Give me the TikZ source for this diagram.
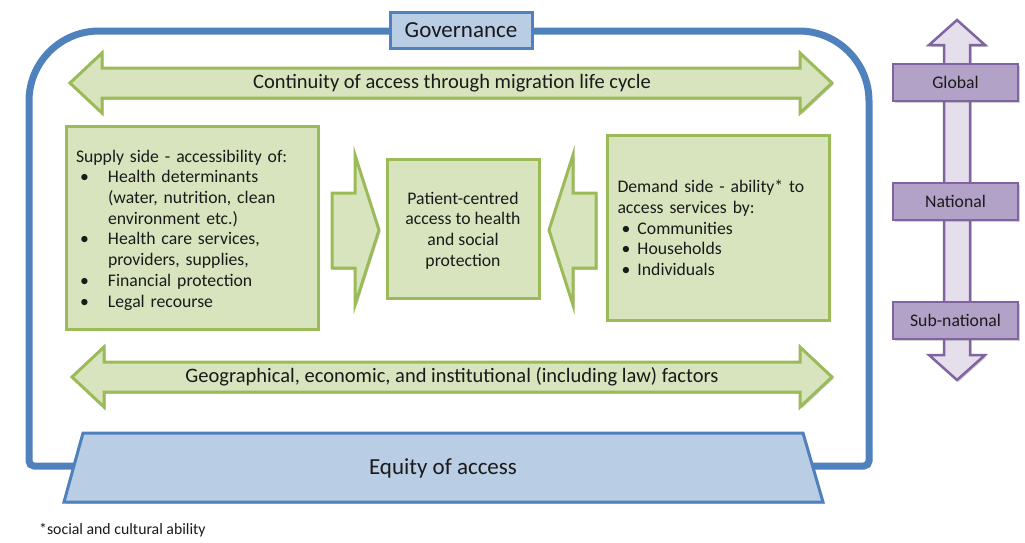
\documentclass[tikz,border=0pt]{standalone}
\usepackage{fontspec}
\setmainfont{Carlito}
\usetikzlibrary{shadows}
\definecolor{gfill}{HTML}{D7E4BD}
\definecolor{gline}{HTML}{9BBB59}
\definecolor{bfill}{HTML}{B9CDE5}
\definecolor{bline}{HTML}{4F81BD}
\definecolor{pfill}{HTML}{B3A2C7}
\definecolor{pline}{HTML}{8064A2}
\definecolor{plight}{HTML}{E5DFEC}
\definecolor{txt}{HTML}{1A1A1A}
\newcommand{\bul}[1]{\makebox[#1][l]{\hspace*{4pt}\textbullet}}
\begin{document}
\begin{tikzpicture}[x=1pt,y=-1pt,
  shade/.style={drop shadow={shadow xshift=1.5pt,shadow yshift=-1.8pt,opacity=0.3,fill=black!60}},
  gbox/.style={draw=gline,fill=gfill,line width=3pt,shade,text=txt},
  garrow/.style={draw=gline,fill=gfill,line width=3pt,line join=miter,shade},
  bshape/.style={draw=bline,fill=bfill,line width=3pt,line join=miter,shade},
  pbox/.style={draw=pline,fill=pfill,line width=2.5pt,minimum width=125pt,minimum height=37pt,shade,
    font=\fontsize{17.7}{21}\selectfont,text=txt},
  parrow/.style={draw=pline,fill=plight,line width=2.5pt,line join=miter,shade},
  boxfont/.style={font=\fontsize{17.7}{20.7}\selectfont},
  arrfont/.style={font=\fontsize{20.5}{24}\selectfont,text=txt},
  bigfont/.style={font=\fontsize{23}{27}\selectfont,text=txt}
]
\useasboundingbox (0,0) rectangle (1025,542);

% outer governance frame
\draw[draw=bline,line width=7pt] (29,250) [rounded corners=70pt] -- (29,31) -- (869,31) -- (869,250)
  [rounded corners=5pt] -- (869,466) -- (29,466) -- cycle;

% governance box
\node[bshape,minimum width=142pt,minimum height=36pt,inner sep=0pt] (gov) at (461,30) {};
\node[bigfont] (govtext) at (461,30.5) {Governance};

% top double arrow
\draw[garrow] (70,83) -- (102,53) -- (102,68) -- (800,68) -- (800,53) -- (832,83)
  -- (800,113) -- (800,98) -- (102,98) -- (102,113) -- cycle;
\node[arrfont] (cont) at (452,83) {Continuity of access through migration life cycle};

% bottom double arrow
\draw[garrow] (72,377) -- (104,347) -- (104,362) -- (800,362) -- (800,347) -- (832,377)
  -- (800,407) -- (800,392) -- (104,392) -- (104,407) -- cycle;
\node[arrfont] (geo) at (452,377) {Geographical, economic, and institutional (including law) factors};

% supply box
\node[gbox,minimum width=252pt,minimum height=203pt] (supply) at (192,228) {};
\node[boxfont,text=txt,text width=232pt,inner sep=0pt,align=left] (supplytext) at (192,230)
  {Supply side - accessibility of:\\
\bul{32pt}Health determinants\\
\hspace*{32pt}(water, nutrition, clean\\
\hspace*{32pt}environment etc.)\\
\bul{32pt}Health care services,\\
\hspace*{32pt}providers, supplies,\\
\bul{32pt}Financial protection\\
\bul{32pt}Legal recourse};

% right-pointing block arrow
\draw[garrow] (332,193) -- (355,193) -- (355,155) -- (379,230) -- (355,305) -- (355,268) -- (332,268) -- cycle;

% center box
\node[gbox,minimum width=152pt,minimum height=139pt] (center) at (463,228.5) {};
\node[boxfont,text=txt,align=center] (centertext) at (463,230.5)
  {Patient-centred\\access to health\\and social\\protection};

% left-pointing block arrow
\draw[garrow] (596,193) -- (573,193) -- (573,155) -- (549,230) -- (573,305) -- (573,268) -- (596,268) -- cycle;

% demand box
\node[gbox,minimum width=222pt,minimum height=185pt] (demand) at (718.5,227.5) {};
\node[boxfont,text=txt,text width=202pt,inner sep=0pt,align=left] (demandtext) at (718.5,228)
  {Demand side - ability* to\\
access services by:\\
\bul{20pt}Communities\\
\bul{20pt}Households\\
\bul{20pt}Individuals};

% equity trapezoid
\draw[bshape] (83,433) -- (803,433) -- (823,502) -- (64,502) -- cycle;
\node[bigfont] (equity) at (443,468) {Equity of access};

% level arrow
\draw[parrow] (957,20) -- (985,45) -- (970,45) -- (970,355) -- (985,355) -- (957,380)
  -- (929,355) -- (944,355) -- (944,45) -- (929,45) -- cycle;
\node[pbox] (global) at (955.5,82.5) {Global};
\node[pbox] (national) at (955.5,201.5) {National};
\node[pbox] (subnat) at (955.5,320.5) {Sub-national};

% footnote
\node[anchor=west,inner sep=0pt,font=\fontsize{15.8}{18}\selectfont,text=txt] (note) at (39,530) {*social and cultural ability};
\end{tikzpicture}
\end{document}
